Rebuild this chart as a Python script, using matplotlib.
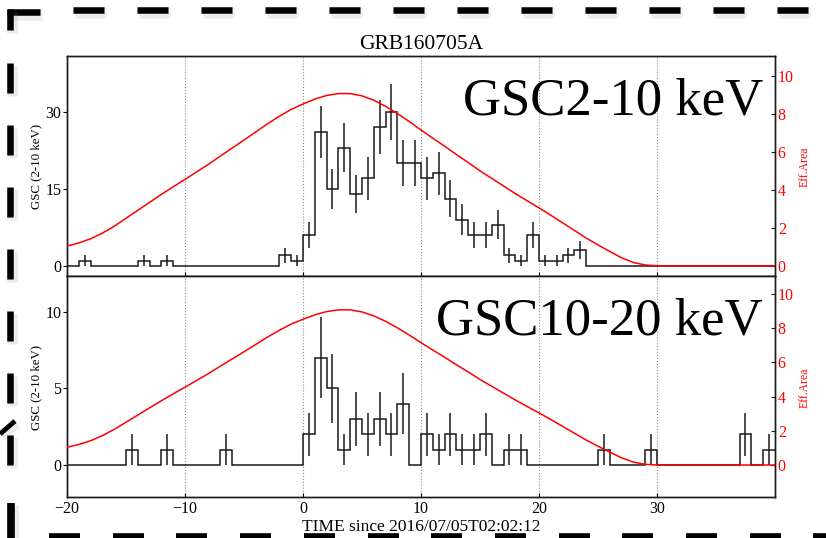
import numpy as np
import matplotlib
matplotlib.use("Agg")
import matplotlib.pyplot as plt

plt.rcParams['font.family'] = ['Liberation Serif', 'DejaVu Serif']

# ── light curve data (1 s bins from -20 to 40 s) ─────────────────────────────
BIN_EDGES = np.arange(-20, 41, 1)

COUNTS_2_10 = [0, 1, 0, 0, 0, 0, 1, 0, 1, 0,
               0, 0, 0, 0, 0, 0, 0, 0, 2, 1,
               6, 26, 15, 23, 14, 17, 27, 30, 20, 20,
               17, 18, 13, 9, 6, 6, 8, 2, 1, 6,
               1, 1, 2, 3, 0, 0, 0, 0, 0, 0,
               0, 0, 0, 0, 0, 0, 0, 0, 0, 0]

COUNTS_10_20 = [0, 0, 0, 0, 0, 1, 0, 0, 1, 0,
                0, 0, 0, 1, 0, 0, 0, 0, 0, 0,
                2, 7, 5, 1, 3, 2, 3, 2, 4, 0,
                2, 1, 2, 1, 1, 2, 0, 1, 1, 0,
                0, 0, 0, 0, 0, 1, 0, 0, 0, 1,
                0, 0, 0, 0, 0, 0, 0, 2, 0, 1]

# effective area along the scan
EFF_T = list(range(-20, 41))
EFF_AREA = [1.04, 1.20, 1.42, 1.72, 2.08, 2.50, 2.92, 3.34, 3.76, 4.16,
            4.55, 4.95, 5.35, 5.78, 6.20, 6.62, 7.05, 7.48, 7.88, 8.24,
            8.52, 8.78, 8.97, 9.07, 9.07, 8.95, 8.72, 8.40, 8.02, 7.60,
            7.15, 6.72, 6.30, 5.86, 5.44, 5.00, 4.60, 4.20, 3.80, 3.42,
            3.05, 2.66, 2.26, 1.86, 1.46, 1.10, 0.75, 0.42, 0.17, 0.04,
            0.0, 0.0, 0.0, 0.0, 0.0, 0.0, 0.0, 0.0, 0.0, 0.0, 0.0]

XTICKS = [-20, -10, 0, 10, 20, 30]

PANELS = [
    dict(counts=COUNTS_2_10, label="GSC2-10 keV", ylim=(-2.0, 40.85),
         yticks=[0, 15, 30], rlim=(-0.54, 11.05)),
    dict(counts=COUNTS_10_20, label="GSC10-20 keV", ylim=(-2.09, 12.33),
         yticks=[0, 5, 10], rlim=(-1.87, 11.05)),
]

INK = "#1a1a1a"

fig = plt.figure(figsize=(8.26, 5.38), dpi=100)

# axes boxes in figure pixels: left 67, right 775, tops 56 / 276, bottom 497
W, H = 826, 538
L, R = 67, 775
boxes = [(56, 276), (276, 497)]

axes = []
for i, (p, (ytop, ybot)) in enumerate(zip(PANELS, boxes)):
    rect = [L / W, 1 - ybot / H, (R - L) / W, (ybot - ytop) / H]
    ax = fig.add_axes(rect, sharex=axes[0] if axes else None)
    axes.append(ax)

    counts = np.asarray(p["counts"], dtype=float)
    centers = 0.5 * (BIN_EDGES[:-1] + BIN_EDGES[1:])
    ax.stairs(counts, BIN_EDGES, baseline=None, color=INK, lw=1.1, zorder=3)
    nz = counts > 0
    ax.errorbar(centers[nz], counts[nz], yerr=np.sqrt(counts[nz]), fmt="none",
                ecolor=INK, elinewidth=1.1, capsize=0, zorder=3)

    ax.set_xlim(-20, 40)
    ax.set_ylim(*p["ylim"])
    ax.set_xticks(XTICKS)
    ax.set_yticks(p["yticks"])
    ax.grid(axis="x", color="#8a8a8a", linestyle=":", linewidth=0.8)
    ax.tick_params(axis="y", direction="out", length=3, width=0.8,
                   pad=1, labelsize=11.5, right=False)
    ax.tick_params(axis="x", direction="in", length=3, width=0.8,
                   pad=3, labelsize=11.5, top=False)
    for s in ax.spines.values():
        s.set_linewidth(1.0)
        s.set_color(INK)

    ax.set_ylabel("GSC (2-10 keV)", fontsize=9.3)
    ax.yaxis.set_label_coords(-0.0353, 0.497)

    ax.text(0.983, 0.735, p["label"], transform=ax.transAxes, ha="right",
            va="baseline", fontsize=38, color="black", zorder=6)

    axr = ax.twinx()
    axr.plot(EFF_T, EFF_AREA, color="red", lw=1.1, zorder=4)
    axr.set_ylim(*p["rlim"])
    axr.set_yticks([0, 2, 4, 6, 8, 10])
    axr.tick_params(axis="y", direction="in", length=3, width=0.8, pad=2,
                    labelsize=11.5, labelcolor="red", color=INK)
    axr.set_ylabel("Eff.Area", color="red", fontsize=8.5)
    axr.yaxis.set_label_coords(1.034, 0.495)
    for s in axr.spines.values():
        s.set_linewidth(1.0)
        s.set_color(INK)

axes[0].tick_params(axis="x", labelbottom=False)
axes[0].set_title("GRB160705A", fontsize=15.5, pad=5)
axes[1].set_xlabel("TIME since 2016/07/05T02:02:12", fontsize=12.5)
axes[1].xaxis.set_label_coords(0.5, -0.098)

# ── dashed frame around the figure ────────────────────────────────────────────
frame = fig.add_axes([0, 0, 1, 1], zorder=10)
frame.set_xlim(0, W)
frame.set_ylim(H, 0)
frame.axis("off")


def seg(x0, y0, x1, y1, lw=4.7):
    frame.plot([x0 + 2, x1 + 2], [y0 + 3, y1 + 3], color="0.55", lw=lw + 3,
               alpha=0.16, solid_capstyle="butt")
    frame.plot([x0, x1], [y0, y1], color="black", lw=lw,
               solid_capstyle="butt")


# corner pieces
seg(7, 12, 40, 12)
seg(9.5, 9, 9.5, 30)
seg(10.5, 503, 10.5, 540, lw=5.5)
seg(0, 434, 15, 421, lw=3.5)
# top, left and bottom runs of dashes
for x in np.arange(73, W, 64):
    seg(x, 10, x + 31, 10)
for y in np.arange(63, 470, 62):
    seg(9.5, y, 9.5, y + 30)
for x in np.arange(49, W, 63.7):
    seg(x, 537, x + 31, 537, lw=5.5)

fig.savefig("out.png", dpi=100)
